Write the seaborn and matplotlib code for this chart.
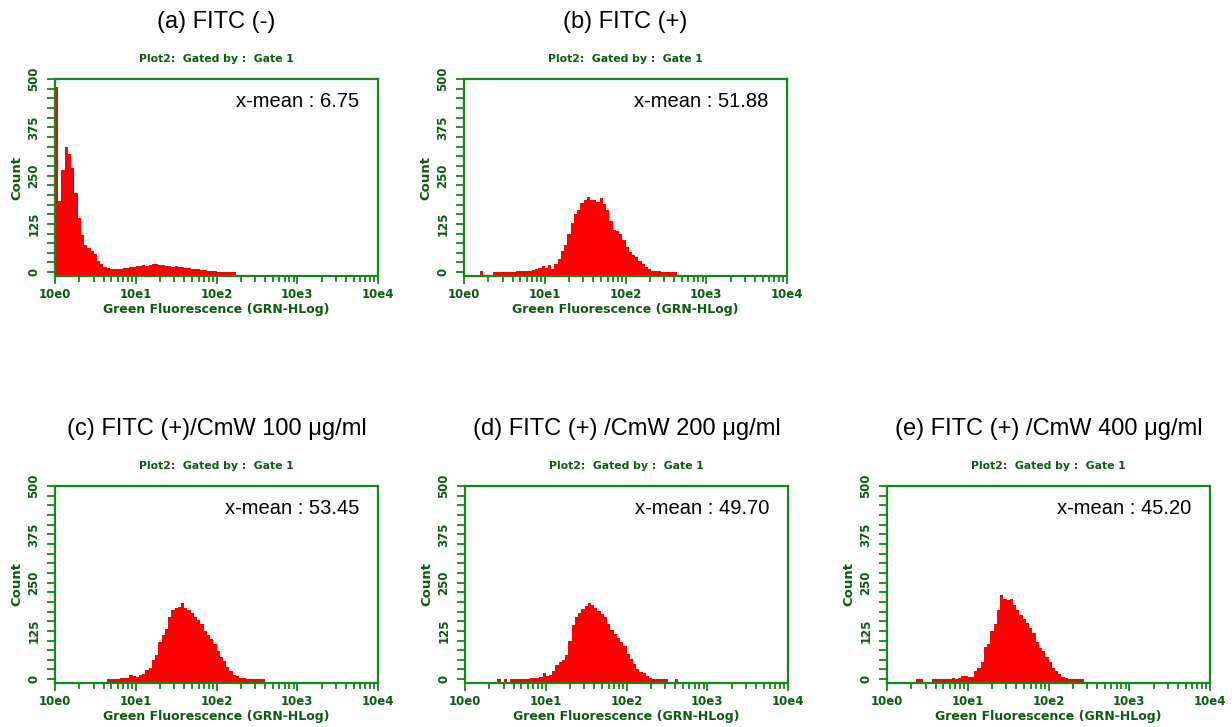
import numpy as np
import pandas as pd
import matplotlib
matplotlib.use("Agg")
import matplotlib.pyplot as plt
import seaborn as sns
from matplotlib.ticker import FixedLocator, LogLocator, NullFormatter

sns.set_theme(style="white")
plt.rcParams["font.family"] = ["DejaVu Sans"]

# ---------------------------------------------------------------------------
# Histogram data: counts per log10 channel bin (bin width 0.04 decades),
# starting at log10 value `start_*`.
# ---------------------------------------------------------------------------
panel_titles = [
    "(a) FITC (-)",
    "(b) FITC (+)",
    "(c) FITC (+)/CmW 100 \u03bcg/ml",
    "(d) FITC (+) /CmW 200 \u03bcg/ml",
    "(e) FITC (+) /CmW 400 \u03bcg/ml",
]
x_means = ["6.75", "51.88", "53.45", "49.70", "45.20"]

start_a = 0.00
counts_a = [480, 185, 265, 325, 305, 270, 205, 140, 95, 70,
            63, 55, 47, 30, 20, 14, 10, 7, 8, 7,
            9, 11, 10, 14, 13, 17, 15, 18, 16, 19,
            21, 20, 18, 19, 17, 16, 14, 15, 13, 14,
            12, 11, 9, 8, 7, 6, 5, 4, 3, 2,
            1, 1, 1, 1, 0.5, 0.5]

start_b = 0.20
counts_b = [2, 0, 0, 0, 0.5,
            0.5, 0.5, 1, 1, 1, 1, 2, 2, 3, 3,
            4, 6, 9, 12, 17, 10, 18, 9, 22, 34,
            55, 70, 100, 128, 150, 160, 178, 188, 195, 188,
            186, 182, 192, 176, 160, 132, 110, 106, 100, 84,
            66, 52, 44, 38, 30, 22, 14, 8, 4, 3,
            2, 1, 1, 1, 0.5, 0.5]

start_c = 0.64
counts_c = [0.5, 0.5, 1, 1, 2, 3, 4, 10, 7, 6,
            10, 14, 24, 30, 50, 62, 95, 115, 130, 160,
            180, 184, 188, 196, 184, 178, 170, 162, 152, 142,
            125, 115, 104, 90, 72, 58, 46, 32, 22, 12,
            8, 4, 2, 1, 1, 0.5, 0.5, 0.5, 0.5]

start_d = 0.40
counts_d = [0.5, 0, 0.5, 0, 0.5, 1, 1, 1, 1.5, 1.5,
            2, 3, 4, 6, 15, 9, 12, 21, 36, 45,
            50, 62, 100, 140, 160, 172, 182, 190, 196, 192,
            184, 176, 168, 162, 142, 128, 116, 106, 96, 86,
            66, 52, 38, 25, 19, 15, 8, 3, 1, 1,
            0.5, 0.5, 0.5, 0, 0, 0.5]

start_e = 0.36
counts_e = [0.5, 0.5, 0, 0, 0, 0.5, 1, 1, 1.5, 1,
            1.5, 2, 1.5, 2, 8, 7, 5, 6, 20, 30,
            44, 82, 90, 125, 142, 180, 218, 208, 205, 208,
            192, 180, 165, 155, 146, 132, 120, 96, 80, 74,
            58, 44, 28, 22, 14, 6, 2, 1, 1, 0.5,
            0.5, 0.5]

starts = [start_a, start_b, start_c, start_d, start_e]
counts_all = [counts_a, counts_b, counts_c, counts_d, counts_e]

x_tick_values = [1, 10, 100, 1000, 10000]
x_tick_labels = ["10e0", "10e1", "10e2", "10e3", "10e4"]
y_tick_values = [0, 125, 250, 375, 500]
y_tick_labels = ["0", "125", "250", "375", "500"]

BIN_WIDTH = 0.04
Y_FLOOR = -10

GREEN_LINE = "#14871a"
GREEN_TEXT = "#0b5c0f"
RED = "#ff0000"

# ---------------------------------------------------------------------------
# Figure layout (pixel geometry of a 1232 x 727 canvas)
# ---------------------------------------------------------------------------
W_PX, H_PX = 1232, 727
fig = plt.figure(figsize=(W_PX / 100, H_PX / 100), dpi=100)
fig.patch.set_facecolor("white")

panel_boxes = [(55, 79), (464, 79), (55, 486), (465, 486), (887, 486)]
AX_W, AX_H = 323, 197

for i in range(5):
    left, top = panel_boxes[i]
    start = starts[i]
    counts = counts_all[i]
    ax = fig.add_axes([left / W_PX, 1 - (top + AX_H) / H_PX,
                       AX_W / W_PX, AX_H / H_PX])
    ax.set_facecolor("white")

    n = len(counts)
    centers = 10 ** (start + BIN_WIDTH * (np.arange(n) + 0.5))
    df = pd.DataFrame({"fluorescence": centers, "count": counts})
    sns.histplot(data=df, x="fluorescence", weights="count", log_scale=True,
                 binwidth=BIN_WIDTH, binrange=(start, start + n * BIN_WIDTH),
                 element="step", fill=True, color=RED, alpha=1, linewidth=0,
                 ax=ax)

    # Fill each histogram down to the bottom of the frame
    for coll in ax.collections:
        new_verts = []
        for p in coll.get_paths():
            v = p.vertices.copy()
            v[v[:, 1] <= 0, 1] = Y_FLOOR
            new_verts.append(v)
        coll.set_verts(new_verts)

    ax.set_xlim(1, 1e4)
    ax.set_ylim(Y_FLOOR, 500)

    ax.set_xticks(x_tick_values, labels=x_tick_labels)
    ax.xaxis.set_minor_locator(LogLocator(base=10, subs=np.arange(2, 10)))
    ax.xaxis.set_minor_formatter(NullFormatter())
    ax.set_yticks(y_tick_values, labels=y_tick_labels)
    ax.yaxis.set_minor_locator(FixedLocator(np.arange(0, 501, 25)))

    ax.tick_params(axis="both", which="both", direction="out",
                   color=GREEN_LINE, width=1.3, bottom=True, left=True,
                   top=False, right=False)
    ax.tick_params(axis="x", which="major", length=6, pad=2.5,
                   labelsize=8.5, labelcolor=GREEN_TEXT)
    ax.tick_params(axis="x", which="minor", length=4)
    ax.tick_params(axis="y", which="major", length=5.5, pad=5,
                   labelsize=8.5, labelcolor=GREEN_TEXT, labelrotation=90)
    ax.tick_params(axis="y", which="minor", length=5.5)
    for lbl in ax.get_xticklabels() + ax.get_yticklabels():
        lbl.set_fontweight("bold")
    for lbl in ax.get_yticklabels():
        lbl.set_verticalalignment("center")

    for s in ax.spines.values():
        s.set_visible(True)
        s.set_color(GREEN_LINE)
        s.set_linewidth(1.6)

    ax.set_xlabel("Green Fluorescence (GRN-HLog)", fontsize=9,
                  fontweight="bold", color=GREEN_TEXT)
    ax.xaxis.set_label_coords(0.5, -27 / AX_H)
    ax.set_ylabel("Count", fontsize=9.5, fontweight="bold", color=GREEN_TEXT)
    ax.yaxis.set_label_coords(-31.5 / AX_W, 0.5)

    ax.text(0.941, 0.888, f"x-mean : {x_means[i]}", transform=ax.transAxes,
            ha="right", va="center", fontsize=14.5, color="black",
            family="Liberation Sans")

    cx = (left + AX_W / 2) / W_PX
    fig.text(cx, 1 - (top - 20) / H_PX, "Plot2:  Gated by :  Gate 1",
             ha="center", va="center", fontsize=7.8, fontweight="bold",
             color=GREEN_TEXT)
    fig.text(cx, 1 - (top - 57) / H_PX, panel_titles[i],
             ha="center", va="center", fontsize=17, color="black",
             family="Liberation Sans")

fig.savefig("out.png", dpi=100, facecolor="white")
